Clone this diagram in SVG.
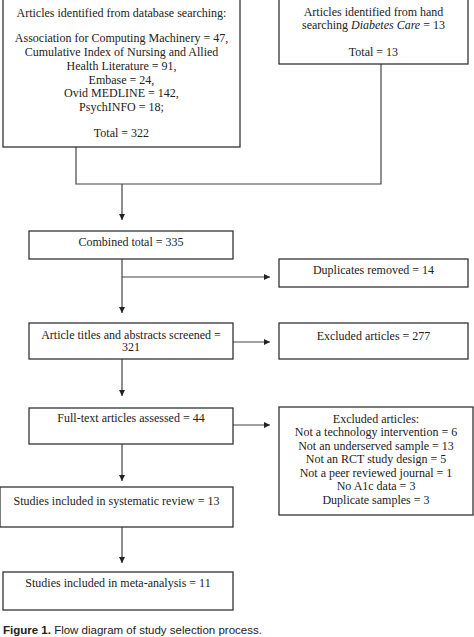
<svg xmlns="http://www.w3.org/2000/svg" width="474" height="637" viewBox="0 0 474 637">
<defs>
<style>
.box{fill:#fff;stroke:#333;stroke-width:1.3}
.t{font-family:"Liberation Serif","Times New Roman",serif;font-size:12px;fill:#222;text-anchor:middle}
.c{fill:none;stroke:#444;stroke-width:1.2}
.cap{font-family:"Liberation Sans",Arial,sans-serif;font-size:11.5px;fill:#222}
</style>
<marker id="ah" markerWidth="6" markerHeight="6" viewBox="0 0 6 6" refX="6" refY="3" orient="auto" markerUnits="userSpaceOnUse">
<path d="M0,0 L6,3 L0,6 Z" fill="#222"/>
</marker>
</defs>
<rect width="474" height="637" fill="#fff"/>
<g id="connectors">
<polyline class="c" points="76,147 76,184 381,184 381,64"/>
<line class="c" x1="122" y1="184" x2="122" y2="220" marker-end="url(#ah)"/>
<line class="c" x1="122" y1="259" x2="122" y2="313" marker-end="url(#ah)"/>
<line class="c" x1="122" y1="277" x2="270" y2="277" marker-end="url(#ah)"/>
<line class="c" x1="233" y1="342" x2="270" y2="342" marker-end="url(#ah)"/>
<line class="c" x1="122" y1="359" x2="122" y2="396" marker-end="url(#ah)"/>
<line class="c" x1="233" y1="425" x2="270" y2="425" marker-end="url(#ah)"/>
<line class="c" x1="122" y1="444" x2="122" y2="481" marker-end="url(#ah)"/>
<line class="c" x1="122" y1="527" x2="122" y2="563" marker-end="url(#ah)"/>
</g>
<g id="db">
<rect class="box" x="3" y="-5" width="237" height="152"/>
<text class="t" x="121.5" y="17">Articles identified from database searching:</text>
<text class="t" x="121.5" y="42">Association for Computing Machinery = 47,</text>
<text class="t" x="121.5" y="56">Cumulative Index of Nursing and Allied</text>
<text class="t" x="121.5" y="70">Health Literature = 91,</text>
<text class="t" x="121.5" y="84">Embase = 24,</text>
<text class="t" x="121.5" y="97">Ovid MEDLINE = 142,</text>
<text class="t" x="121.5" y="111">PsychINFO = 18;</text>
<text class="t" x="121.5" y="137">Total = 322</text>
</g>
<g id="hand">
<rect class="box" x="279" y="-5" width="189" height="69"/>
<text class="t" x="373.5" y="16">Articles identified from hand</text>
<text class="t" x="373.5" y="29">searching <tspan font-style="italic">Diabetes Care</tspan> = 13</text>
<text class="t" x="373.5" y="56">Total = 13</text>
</g>
<g id="combined">
<rect class="box" x="29" y="231" width="204" height="28"/>
<text class="t" x="131" y="246">Combined total = 335</text>
</g>
<g id="duplicates">
<rect class="box" x="279" y="259" width="189" height="28"/>
<text class="t" x="373.5" y="274">Duplicates removed = 14</text>
</g>
<g id="screened">
<rect class="box" x="29" y="323" width="204" height="36"/>
<text class="t" x="131" y="338.5">Article titles and abstracts screened =</text>
<text class="t" x="131" y="351">321</text>
</g>
<g id="excluded1">
<rect class="box" x="279" y="323" width="189" height="36"/>
<text class="t" x="373.5" y="339.5">Excluded articles = 277</text>
</g>
<g id="fulltext">
<rect class="box" x="29" y="408" width="204" height="36"/>
<text class="t" x="131" y="422">Full-text articles assessed = 44</text>
</g>
<g id="excluded2">
<rect class="box" x="279" y="407" width="194" height="108"/>
<text class="t" x="376" y="422.5">Excluded articles:</text>
<text class="t" x="376" y="436">Not a technology intervention = 6</text>
<text class="t" x="376" y="449.5">Not an underserved sample = 13</text>
<text class="t" x="376" y="463">Not an RCT study design = 5</text>
<text class="t" x="376" y="476.5">Not a peer reviewed journal = 1</text>
<text class="t" x="376" y="490">No A1c data = 3</text>
<text class="t" x="376" y="503.5">Duplicate samples = 3</text>
</g>
<g id="systematic">
<rect class="box" x="0" y="487" width="233" height="40"/>
<text class="t" x="116.5" y="505">Studies included in systematic review = 13</text>
</g>
<g id="meta">
<rect class="box" x="3" y="572" width="230" height="38"/>
<text class="t" x="118" y="587">Studies included in meta-analysis = 11</text>
</g>
<text class="cap" x="3" y="634"><tspan font-weight="bold">Figure 1.</tspan> Flow diagram of study selection process.</text>
</svg>
